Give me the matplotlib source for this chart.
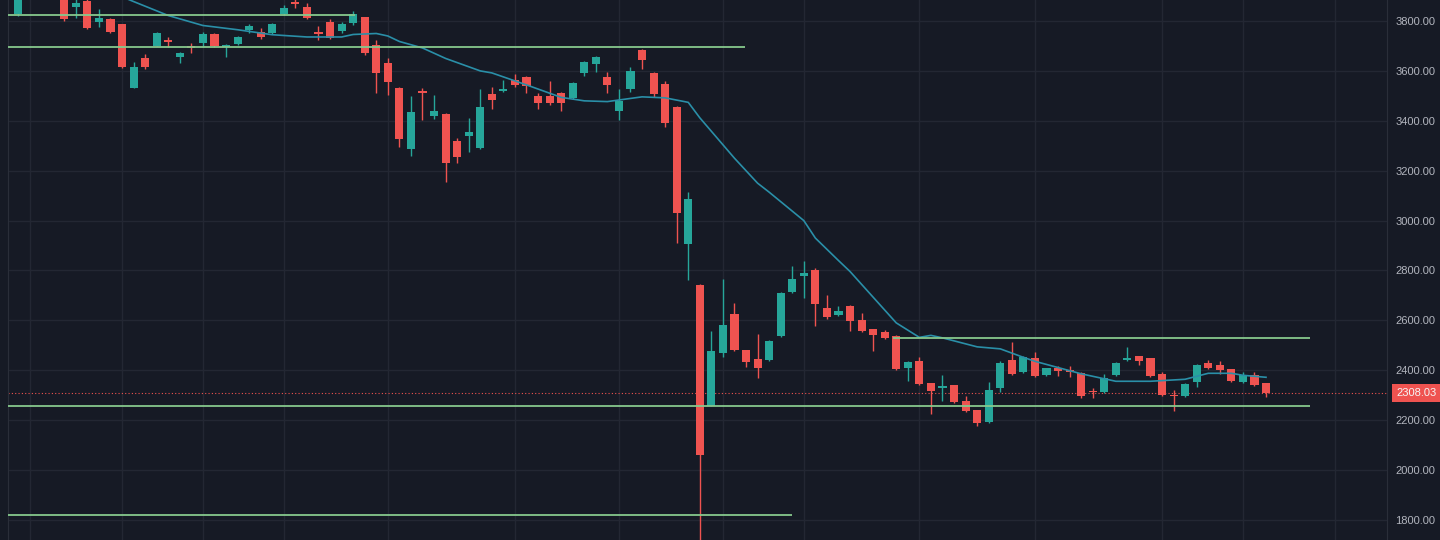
import numpy as np
import matplotlib.pyplot as plt
from matplotlib.transforms import blended_transform_factory

# daily candles, oldest first
opens = [3828, 3920, 3960, 3930, 3950, 3856, 3880, 3796, 3808, 3788,
         3532, 3652, 3700, 3724, 3656, 3700, 3712, 3748, 3696, 3708,
         3764, 3756, 3752, 3828, 3876, 3856, 3756, 3796, 3760, 3792,
         3816, 3704, 3632, 3532, 3288, 3520, 3420, 3428, 3320, 3340,
         3292, 3508, 3520, 3564, 3576, 3500, 3500, 3512, 3492, 3592,
         3628, 3576, 3440, 3528, 3684, 3592, 3548, 3456, 2908, 2740,
         2256, 2468, 2624, 2480, 2444, 2440, 2536, 2712, 2776, 2800,
         2648, 2620, 2656, 2600, 2564, 2552, 2536, 2408, 2436, 2348,
         2328, 2340, 2276, 2240, 2192, 2328, 2440, 2392, 2448, 2380,
         2408, 2400, 2388, 2316, 2312, 2380, 2440, 2456, 2448, 2384,
         2300, 2296, 2352, 2428, 2420, 2404, 2352, 2380, 2348]
highs = [3950, 3990, 3985, 3965, 3960, 3890, 3895, 3848, 3812, 3790,
         3636, 3668, 3756, 3736, 3676, 3712, 3756, 3752, 3706, 3740,
         3788, 3772, 3792, 3864, 3890, 3872, 3780, 3808, 3796, 3840,
         3818, 3724, 3652, 3536, 3500, 3532, 3504, 3430, 3332, 3412,
         3528, 3536, 3564, 3588, 3578, 3512, 3560, 3516, 3556, 3640,
         3660, 3596, 3528, 3616, 3688, 3596, 3560, 3460, 3116, 2744,
         2556, 2764, 2668, 2482, 2544, 2520, 2712, 2820, 2840, 2812,
         2700, 2656, 2660, 2628, 2566, 2560, 2540, 2436, 2452, 2350,
         2380, 2342, 2296, 2242, 2352, 2436, 2512, 2456, 2472, 2410,
         2416, 2416, 2392, 2328, 2384, 2432, 2492, 2458, 2450, 2392,
         2320, 2348, 2424, 2440, 2436, 2406, 2392, 2392, 2350]
lows = [3822, 3900, 3905, 3895, 3800, 3812, 3768, 3776, 3752, 3612,
        3530, 3608, 3698, 3696, 3632, 3672, 3696, 3696, 3656, 3704,
        3752, 3728, 3748, 3824, 3852, 3808, 3724, 3728, 3752, 3784,
        3664, 3512, 3504, 3296, 3260, 3404, 3408, 3156, 3232, 3276,
        3288, 3448, 3516, 3536, 3512, 3448, 3464, 3440, 3488, 3580,
        3596, 3512, 3404, 3516, 3608, 3496, 3376, 2912, 2760, 1700,
        2256, 2452, 2476, 2412, 2368, 2436, 2532, 2710, 2688, 2576,
        2604, 2618, 2556, 2554, 2476, 2524, 2400, 2356, 2342, 2224,
        2276, 2268, 2232, 2176, 2190, 2312, 2382, 2390, 2374, 2378,
        2376, 2372, 2288, 2288, 2310, 2378, 2438, 2420, 2372, 2298,
        2236, 2292, 2332, 2406, 2384, 2352, 2348, 2338, 2292]
closes = [3920, 3960, 3930, 3950, 3808, 3872, 3772, 3812, 3756, 3616,
          3616, 3616, 3752, 3716, 3672, 3692, 3748, 3700, 3704, 3736,
          3780, 3736, 3788, 3852, 3868, 3812, 3748, 3732, 3788, 3828,
          3672, 3592, 3556, 3328, 3436, 3512, 3440, 3232, 3256, 3356,
          3456, 3484, 3528, 3544, 3540, 3472, 3472, 3472, 3552, 3636,
          3656, 3544, 3480, 3600, 3644, 3508, 3392, 3032, 3088, 2060,
          2476, 2580, 2480, 2432, 2408, 2516, 2708, 2764, 2788, 2664,
          2612, 2636, 2596, 2556, 2540, 2528, 2404, 2432, 2344, 2316,
          2336, 2272, 2236, 2188, 2320, 2428, 2384, 2452, 2376, 2408,
          2396, 2392, 2296, 2312, 2368, 2428, 2448, 2436, 2376, 2300,
          2296, 2344, 2420, 2408, 2400, 2356, 2380, 2340, 2308.03]

# moving average line (candle index, value)
ma_idx = [8, 10, 13, 16, 19, 22, 25, 28, 29, 31, 32, 33, 35, 37, 40, 41, 44, 47, 49,
          51, 54, 56, 58, 59, 62, 64, 65, 68, 69, 71, 72, 76, 78, 79, 80, 83, 85,
          87, 88, 92, 95, 98, 101, 103, 105, 106, 108]
ma_vals = [3916, 3878, 3822, 3782, 3765, 3745, 3736, 3736, 3746, 3750, 3740, 3718,
           3692, 3650, 3600, 3592, 3544, 3494, 3480, 3477, 3496, 3492, 3474, 3412,
           3250, 3150, 3114, 3000, 2930, 2840, 2796, 2590, 2532, 2540, 2530, 2494,
           2486, 2452, 2436, 2386, 2356, 2356, 2364, 2388, 2388, 2380, 2372]

# drawn horizontal levels
levels = [3824, 3695, 1820, 2256, 2528]
level_from = [-0.9, -0.9, -0.9, -0.9, 75.7]
level_to = [29.2, 62.9, 67.0, 111.8, 111.8]

# date grid positions (candle index)
date_grid = [1, 9, 16, 23, 32, 43, 52, 61, 68, 78, 88, 99, 106, 114]

bg = '#161a25'
up_col = '#26a69a'
down_col = '#ef5350'

fig = plt.figure(figsize=(14.4, 5.4), dpi=100, facecolor=bg)
ax = fig.add_axes([8/1440, 0, 1379/1440, 1])
ax.set_facecolor(bg)

o = np.array(opens, dtype=float)
c = np.array(closes, dtype=float)
h = np.array(highs, dtype=float)
l = np.array(lows, dtype=float)
x = np.arange(len(o))
cols = np.where(c >= o, up_col, down_col)

ax.vlines(x, l, h, colors=cols, lw=1, zorder=3)
body_h = np.maximum(np.abs(c - o), 4)
ax.bar(x, body_h, bottom=np.minimum(o, c), width=0.7, color=cols, lw=0, zorder=4)

ax.plot(ma_idx, ma_vals, color='#2a8fa8', lw=1.2, zorder=5)

for lv, a, b in zip(levels, level_from, level_to):
    ax.hlines(lv, a, b, color='#86c98d', lw=1.3, zorder=6)

last = closes[-1]
ax.axhline(last, color=down_col, lw=0.8, ls=(0, (1, 2)), zorder=2)

ax.set_xlim(-0.87, 118.47)
ax.set_ylim(1719.8, 3884.2)

ax.set_xticks(date_grid)
ax.set_yticks(np.arange(1800, 3801, 200))
ax.grid(True, color='#232733', lw=1)
ax.set_axisbelow(True)
ax.tick_params(axis='x', length=0, labelbottom=False)
ax.yaxis.tick_right()
ax.tick_params(axis='y', length=0, pad=6, labelsize=8, labelcolor='#b2b5be')
ax.yaxis.set_major_formatter(plt.FormatStrFormatter('%.2f'))
for lab in ax.get_yticklabels():
    lab.set_family('Liberation Sans')

for s in ['top', 'bottom']:
    ax.spines[s].set_visible(False)
ax.spines['left'].set_color('#2a2e39')
ax.spines['right'].set_color('#2a2e39')

tr = blended_transform_factory(ax.transAxes, ax.transData)
ax.text(1.0 + 9/1379, last, f'{last:.2f}', transform=tr, ha='left', va='center',
        color='#f5f5f5', fontsize=8, family='Liberation Sans', zorder=10,
        bbox=dict(boxstyle='square,pad=0.35', fc=down_col, ec='none'))

fig.savefig('out.png', dpi=100, facecolor=bg)
